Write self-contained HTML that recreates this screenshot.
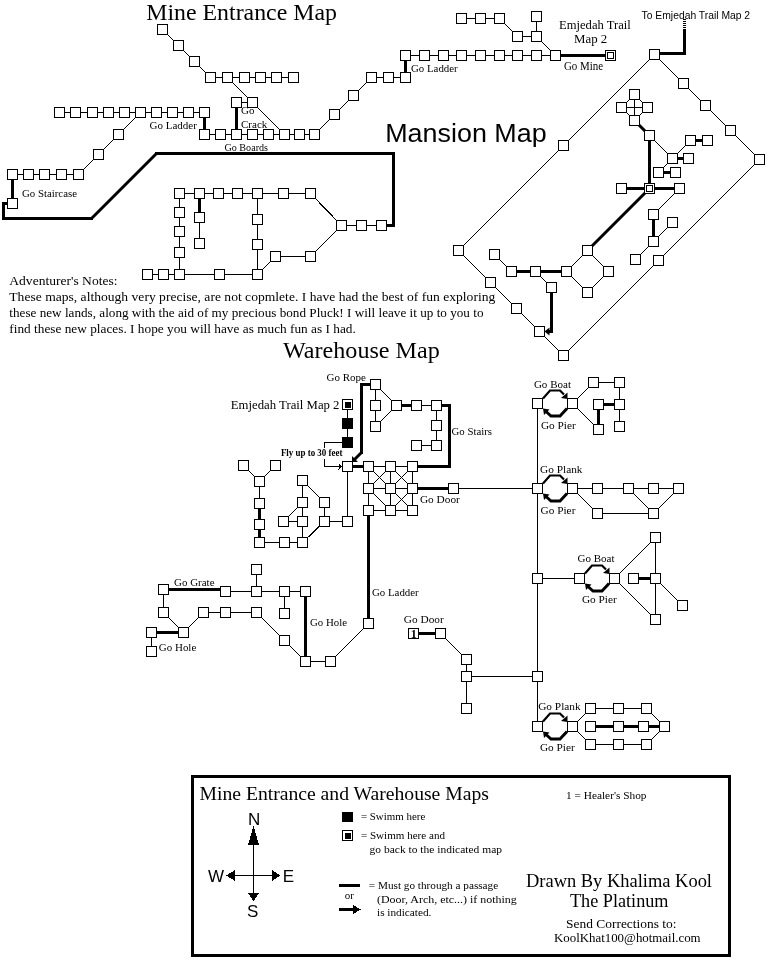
<!DOCTYPE html><html><head><meta charset="utf-8"><style>html,body{margin:0;padding:0;background:#fff;width:768px;height:960px;overflow:hidden}svg{display:block;filter:grayscale(1)}.s{font-family:"Liberation Serif",serif}.a{font-family:"Liberation Sans",sans-serif}</style></head><body>
<svg width="768" height="960" viewBox="0 0 768 960">
<rect width="768" height="960" fill="#fff"/>
<g shape-rendering="crispEdges">
<path d="M162.5 29.5L178.5 45.5M178.5 45.5L194.5 61.5M194.5 61.5L210.5 77.5M210.5 77.5L227.5 77.5M227.5 77.5L244.5 77.5M244.5 77.5L260.5 77.5M260.5 77.5L276.5 77.5M276.5 77.5L293.5 77.5M227.5 77.5L252.5 102.5M252.5 102.5L284.5 134.5M236.5 102.5L252.5 102.5M59.5 112.5L75.5 112.5M75.5 112.5L92.5 112.5M92.5 112.5L108.5 112.5M108.5 112.5L124.5 112.5M124.5 112.5L140.5 112.5M140.5 112.5L156.5 112.5M156.5 112.5L172.5 112.5M172.5 112.5L188.5 112.5M188.5 112.5L204.5 112.5M204.5 134.5L220.5 134.5M220.5 134.5L236.5 134.5M236.5 134.5L252.5 134.5M252.5 134.5L268.5 134.5M268.5 134.5L284.5 134.5M284.5 134.5L299.5 134.5M299.5 134.5L314.5 134.5M314.5 134.5L334.5 114.5M334.5 114.5L353.5 95.5M353.5 95.5L371.5 77.5M371.5 77.5L388.5 77.5M388.5 77.5L405.5 77.5M405.5 55.5L424.5 55.5M424.5 55.5L443.5 55.5M443.5 55.5L461.5 55.5M461.5 55.5L480.5 55.5M480.5 55.5L499.5 55.5M499.5 55.5L517.5 55.5M517.5 55.5L536.5 55.5M536.5 55.5L555.5 55.5M461.5 18.5L480.5 18.5M480.5 18.5L499.5 18.5M499.5 18.5L517.5 36.5M517.5 36.5L536.5 36.5M536.5 16.5L536.5 36.5M536.5 36.5L555.5 55.5M140.5 112.5L118.5 134.5M118.5 134.5L98.5 154.5M98.5 154.5L78.5 174.5M12.5 174.5L28.5 174.5M28.5 174.5L44.5 174.5M44.5 174.5L61.5 174.5M61.5 174.5L78.5 174.5M179.5 193.5L199.5 193.5M199.5 193.5L218.5 193.5M218.5 193.5L237.5 193.5M237.5 193.5L257.5 193.5M257.5 193.5L283.5 193.5M283.5 193.5L310.5 193.5M179.5 193.5L179.5 212.5M179.5 212.5L179.5 231.5M179.5 231.5L179.5 252.5M179.5 252.5L179.5 274.5M199.5 217.5L199.5 243.5M257.5 193.5L257.5 219.5M257.5 219.5L257.5 244.5M257.5 244.5L257.5 274.5M147.5 274.5L163.5 274.5M163.5 274.5L179.5 274.5M179.5 274.5L219.5 274.5M219.5 274.5L257.5 274.5M257.5 274.5L275.5 256.5M275.5 256.5L310.5 256.5M310.5 256.5L341.5 225.5M341.5 225.5L310.5 193.5M341.5 225.5L361.5 225.5M361.5 225.5L381.5 225.5M654.5 54.5L683.5 83.5M683.5 83.5L705.5 105.5M705.5 105.5L730.5 130.5M730.5 130.5L759.5 159.5M654.5 54.5L563.5 145.5M563.5 145.5L458.5 250.5M458.5 250.5L490.5 282.5M490.5 282.5L516.5 308.5M516.5 308.5L539.5 331.5M539.5 331.5L563.5 355.5M563.5 355.5L658.5 260.5M658.5 260.5L759.5 159.5M621.5 107.5L647.5 107.5M634.5 94.5L634.5 120.5M629.5 99.5L626.5 102.5M639.5 99.5L642.5 102.5M629.5 115.5L626.5 112.5M639.5 115.5L642.5 112.5M649.5 135.5L672.5 158.5M672.5 158.5L690.5 140.5M672.5 158.5L658.5 172.5M679.5 188.5L653.5 214.5M672.5 222.5L653.5 241.5M653.5 241.5L635.5 259.5M566.5 271.5L587.5 250.5M587.5 250.5L608.5 271.5M608.5 271.5L587.5 292.5M587.5 292.5L566.5 271.5M494.5 254.5L511.5 271.5M535.5 271.5L551.5 287.5M375.5 384.5L375.5 405.5M375.5 405.5L375.5 426.5M375.5 384.5L396.5 405.5M396.5 405.5L375.5 426.5M416.5 405.5L436.5 405.5M436.5 405.5L436.5 425.5M436.5 425.5L436.5 445.5M416.5 445.5L436.5 445.5M347.5 404.5L347.5 442.5M368.5 466.5L390.5 466.5M390.5 466.5L412.5 466.5M368.5 488.5L390.5 488.5M390.5 488.5L412.5 488.5M368.5 510.5L390.5 510.5M390.5 510.5L412.5 510.5M368.5 466.5L368.5 510.5M390.5 466.5L390.5 510.5M412.5 466.5L412.5 510.5M368.5 466.5L390.5 488.5M390.5 466.5L368.5 488.5M390.5 466.5L412.5 488.5M412.5 466.5L390.5 488.5M368.5 488.5L390.5 510.5M390.5 488.5L412.5 510.5M412.5 488.5L390.5 510.5M453.5 488.5L537.5 488.5M347.5 466.5L347.5 521.5M243.5 465.5L259.5 481.5M259.5 481.5L275.5 465.5M259.5 481.5L259.5 503.5M259.5 542.5L284.5 542.5M284.5 542.5L302.5 542.5M302.5 480.5L302.5 542.5M302.5 480.5L324.5 502.5M324.5 502.5L324.5 521.5M324.5 521.5L347.5 521.5M324.5 521.5L302.5 542.5M283.5 521.5L302.5 502.5M283.5 521.5L302.5 521.5M225.5 591.5L256.5 591.5M256.5 591.5L284.5 591.5M284.5 591.5L305.5 591.5M256.5 569.5L256.5 591.5M284.5 591.5L284.5 613.5M203.5 612.5L225.5 612.5M225.5 612.5L256.5 612.5M163.5 589.5L163.5 612.5M163.5 612.5L183.5 632.5M183.5 632.5L203.5 612.5M151.5 632.5L151.5 651.5M256.5 612.5L284.5 640.5M284.5 640.5L305.5 661.5M305.5 661.5L330.5 661.5M368.5 623.5L330.5 661.5M466.5 659.5L466.5 676.5M466.5 676.5L466.5 708.5M440.5 633.5L466.5 659.5M466.5 676.5L537.5 676.5M537.5 403.5L537.5 726.5M572.5 403.5L593.5 382.5M593.5 382.5L619.5 382.5M619.5 382.5L619.5 426.5M572.5 403.5L598.5 429.5M572.5 488.5L678.5 488.5M572.5 488.5L597.5 513.5M597.5 513.5L653.5 513.5M628.5 488.5L653.5 513.5M653.5 513.5L678.5 488.5M537.5 578.5L579.5 578.5M655.5 537.5L614.5 578.5M614.5 578.5L655.5 619.5M655.5 537.5L655.5 619.5M655.5 578.5L682.5 605.5M590.5 708.5L618.5 708.5M618.5 708.5L646.5 708.5M590.5 744.5L618.5 744.5M618.5 744.5L646.5 744.5M590.5 708.5L572.5 726.5M572.5 726.5L590.5 744.5M646.5 708.5L664.5 726.5M664.5 726.5L646.5 744.5" stroke="#000" stroke-width="1" fill="none"/>
<line x1="236.5" y1="102.5" x2="236.5" y2="134.5" stroke="#000" stroke-width="3" stroke-linecap="square"/>
<line x1="204.5" y1="112.5" x2="204.5" y2="134.5" stroke="#000" stroke-width="3" stroke-linecap="square"/>
<line x1="405.5" y1="77.5" x2="405.5" y2="55.5" stroke="#000" stroke-width="3" stroke-linecap="square"/>
<line x1="555.5" y1="55.5" x2="610.5" y2="55.5" stroke="#000" stroke-width="3" stroke-linecap="square"/>
<line x1="12.5" y1="174.5" x2="12.5" y2="203.5" stroke="#000" stroke-width="3" stroke-linecap="square"/>
<line x1="7.5" y1="203.5" x2="3.5" y2="203.5" stroke="#000" stroke-width="3" stroke-linecap="square"/>
<line x1="3.5" y1="203.5" x2="3.5" y2="218.5" stroke="#000" stroke-width="3" stroke-linecap="square"/>
<line x1="3.5" y1="218.5" x2="91.5" y2="218.5" stroke="#000" stroke-width="3" stroke-linecap="square"/>
<line x1="91.5" y1="218.5" x2="156.5" y2="153.5" stroke="#000" stroke-width="3" stroke-linecap="round" shape-rendering="auto"/>
<line x1="156.5" y1="153.5" x2="393.5" y2="153.5" stroke="#000" stroke-width="3" stroke-linecap="square"/>
<line x1="393.5" y1="153.5" x2="393.5" y2="225.5" stroke="#000" stroke-width="3" stroke-linecap="square"/>
<line x1="393.5" y1="225.5" x2="381.5" y2="225.5" stroke="#000" stroke-width="3" stroke-linecap="square"/>
<line x1="199.5" y1="193.5" x2="199.5" y2="217.5" stroke="#000" stroke-width="3" stroke-linecap="square"/>
<line x1="659.5" y1="53.5" x2="684.5" y2="53.5" stroke="#000" stroke-width="3" stroke-linecap="square"/>
<line x1="684.5" y1="53.5" x2="684.5" y2="30.5" stroke="#000" stroke-width="3" stroke-linecap="square"/>
<line x1="634.5" y1="120.5" x2="649.5" y2="135.5" stroke="#000" stroke-width="3" stroke-linecap="round" shape-rendering="auto"/>
<line x1="649.5" y1="135.5" x2="649.5" y2="188.5" stroke="#000" stroke-width="3" stroke-linecap="square"/>
<line x1="672.5" y1="158.5" x2="688.5" y2="158.5" stroke="#000" stroke-width="3" stroke-linecap="square"/>
<line x1="690.5" y1="140.5" x2="707.5" y2="140.5" stroke="#000" stroke-width="3" stroke-linecap="square"/>
<line x1="658.5" y1="172.5" x2="675.5" y2="172.5" stroke="#000" stroke-width="3" stroke-linecap="square"/>
<line x1="621.5" y1="188.5" x2="679.5" y2="188.5" stroke="#000" stroke-width="3" stroke-linecap="square"/>
<line x1="649.5" y1="188.5" x2="587.5" y2="250.5" stroke="#000" stroke-width="3" stroke-linecap="round" shape-rendering="auto"/>
<line x1="653.5" y1="214.5" x2="653.5" y2="241.5" stroke="#000" stroke-width="3" stroke-linecap="square"/>
<line x1="511.5" y1="271.5" x2="566.5" y2="271.5" stroke="#000" stroke-width="3" stroke-linecap="square"/>
<line x1="551.5" y1="287.5" x2="551.5" y2="331.5" stroke="#000" stroke-width="3" stroke-linecap="square"/>
<line x1="551.5" y1="331.5" x2="548.5" y2="331.5" stroke="#000" stroke-width="3" stroke-linecap="square"/>
<line x1="396.5" y1="405.5" x2="416.5" y2="405.5" stroke="#000" stroke-width="3" stroke-linecap="square"/>
<line x1="436.5" y1="405.5" x2="449.5" y2="405.5" stroke="#000" stroke-width="3" stroke-linecap="square"/>
<line x1="449.5" y1="405.5" x2="449.5" y2="466.5" stroke="#000" stroke-width="3" stroke-linecap="square"/>
<line x1="449.5" y1="466.5" x2="412.5" y2="466.5" stroke="#000" stroke-width="3" stroke-linecap="square"/>
<line x1="347.5" y1="466.5" x2="368.5" y2="466.5" stroke="#000" stroke-width="3" stroke-linecap="square"/>
<line x1="412.5" y1="488.5" x2="453.5" y2="488.5" stroke="#000" stroke-width="3" stroke-linecap="square"/>
<line x1="259.5" y1="503.5" x2="259.5" y2="542.5" stroke="#000" stroke-width="3" stroke-linecap="square"/>
<line x1="370.5" y1="384.5" x2="361.5" y2="384.5" stroke="#000" stroke-width="3" stroke-linecap="square"/>
<line x1="361.5" y1="384.5" x2="361.5" y2="452.5" stroke="#000" stroke-width="3" stroke-linecap="square"/>
<line x1="361.5" y1="452.5" x2="354.5" y2="459.5" stroke="#000" stroke-width="3" stroke-linecap="round" shape-rendering="auto"/>
<line x1="163.5" y1="589.5" x2="225.5" y2="589.5" stroke="#000" stroke-width="3" stroke-linecap="square"/>
<line x1="151.5" y1="632.5" x2="183.5" y2="632.5" stroke="#000" stroke-width="3" stroke-linecap="square"/>
<line x1="305.5" y1="591.5" x2="305.5" y2="661.5" stroke="#000" stroke-width="3" stroke-linecap="square"/>
<line x1="368.5" y1="510.5" x2="368.5" y2="623.5" stroke="#000" stroke-width="3" stroke-linecap="square"/>
<line x1="413.5" y1="633.5" x2="440.5" y2="633.5" stroke="#000" stroke-width="3" stroke-linecap="square"/>
<line x1="598.5" y1="429.5" x2="598.5" y2="404.5" stroke="#000" stroke-width="3" stroke-linecap="square"/>
<line x1="598.5" y1="404.5" x2="619.5" y2="404.5" stroke="#000" stroke-width="3" stroke-linecap="square"/>
<line x1="633.5" y1="578.5" x2="655.5" y2="578.5" stroke="#000" stroke-width="3" stroke-linecap="square"/>
<line x1="590.5" y1="726.5" x2="664.5" y2="726.5" stroke="#000" stroke-width="3" stroke-linecap="square"/>
<line x1="684.5" y1="30" x2="684.5" y2="19" stroke="#000" stroke-width="3" stroke-dasharray="1 1"/>
<polygon points="544.5,331.5 549.5,327.5 549.5,335.5" fill="#000" shape-rendering="auto"/>
<polygon points="352,462 352,456 358,462" fill="#000" shape-rendering="auto"/>
<polyline points="342,442.5 324.5,442.5 324.5,466.5 339,466.5" fill="none" stroke="#000" stroke-width="1"/>
<polygon points="342,466.5 338.5,463.5 338.5,469.5" fill="#000"/>
<rect x="281" y="447.5" width="62" height="11" fill="#fff"/>
<polyline points="543.0,398.5 550.0,390.5 560.0,390.5 564.0,394.5" fill="none" stroke="#000" stroke-width="2.2" shape-rendering="auto"/><polygon points="567.5,399.0 561.0,398.0 567.5,392.5" fill="#000" shape-rendering="auto"/><polyline points="567.0,408.5 560.0,416.0 551.0,416.0 546.0,411.5" fill="none" stroke="#000" stroke-width="3" shape-rendering="auto"/><polygon points="543.0,408.5 549.5,409.5 544.0,415.0" fill="#000" shape-rendering="auto"/>
<polyline points="543.0,483.5 550.0,475.5 560.0,475.5 564.0,479.5" fill="none" stroke="#000" stroke-width="2.2" shape-rendering="auto"/><polygon points="567.5,484.0 561.0,483.0 567.5,477.5" fill="#000" shape-rendering="auto"/><polyline points="567.0,493.5 560.0,501.0 551.0,501.0 546.0,496.5" fill="none" stroke="#000" stroke-width="3" shape-rendering="auto"/><polygon points="543.0,493.5 549.5,494.5 544.0,500.0" fill="#000" shape-rendering="auto"/>
<polyline points="585.0,573.5 592.0,565.5 602.0,565.5 606.0,569.5" fill="none" stroke="#000" stroke-width="2.2" shape-rendering="auto"/><polygon points="609.5,574.0 603.0,573.0 609.5,567.5" fill="#000" shape-rendering="auto"/><polyline points="609.0,583.5 602.0,591.0 593.0,591.0 588.0,586.5" fill="none" stroke="#000" stroke-width="3" shape-rendering="auto"/><polygon points="585.0,583.5 591.5,584.5 586.0,590.0" fill="#000" shape-rendering="auto"/>
<polyline points="543.0,721.5 550.0,713.5 560.0,713.5 564.0,717.5" fill="none" stroke="#000" stroke-width="2.2" shape-rendering="auto"/><polygon points="567.5,722.0 561.0,721.0 567.5,715.5" fill="#000" shape-rendering="auto"/><polyline points="567.0,731.5 560.0,739.0 551.0,739.0 546.0,734.5" fill="none" stroke="#000" stroke-width="3" shape-rendering="auto"/><polygon points="543.0,731.5 549.5,732.5 544.0,738.0" fill="#000" shape-rendering="auto"/>
<rect x="157.5" y="24.5" width="10" height="10" fill="#fff" stroke="#000"/>
<rect x="173.5" y="40.5" width="10" height="10" fill="#fff" stroke="#000"/>
<rect x="189.5" y="56.5" width="10" height="10" fill="#fff" stroke="#000"/>
<rect x="205.5" y="72.5" width="10" height="10" fill="#fff" stroke="#000"/>
<rect x="222.5" y="72.5" width="10" height="10" fill="#fff" stroke="#000"/>
<rect x="239.5" y="72.5" width="10" height="10" fill="#fff" stroke="#000"/>
<rect x="255.5" y="72.5" width="10" height="10" fill="#fff" stroke="#000"/>
<rect x="271.5" y="72.5" width="10" height="10" fill="#fff" stroke="#000"/>
<rect x="288.5" y="72.5" width="10" height="10" fill="#fff" stroke="#000"/>
<rect x="247.5" y="97.5" width="10" height="10" fill="#fff" stroke="#000"/>
<rect x="231.5" y="97.5" width="10" height="10" fill="#fff" stroke="#000"/>
<rect x="54.5" y="107.5" width="10" height="10" fill="#fff" stroke="#000"/>
<rect x="70.5" y="107.5" width="10" height="10" fill="#fff" stroke="#000"/>
<rect x="87.5" y="107.5" width="10" height="10" fill="#fff" stroke="#000"/>
<rect x="103.5" y="107.5" width="10" height="10" fill="#fff" stroke="#000"/>
<rect x="119.5" y="107.5" width="10" height="10" fill="#fff" stroke="#000"/>
<rect x="135.5" y="107.5" width="10" height="10" fill="#fff" stroke="#000"/>
<rect x="151.5" y="107.5" width="10" height="10" fill="#fff" stroke="#000"/>
<rect x="167.5" y="107.5" width="10" height="10" fill="#fff" stroke="#000"/>
<rect x="183.5" y="107.5" width="10" height="10" fill="#fff" stroke="#000"/>
<rect x="199.5" y="107.5" width="10" height="10" fill="#fff" stroke="#000"/>
<rect x="199.5" y="129.5" width="10" height="10" fill="#fff" stroke="#000"/>
<rect x="215.5" y="129.5" width="10" height="10" fill="#fff" stroke="#000"/>
<rect x="231.5" y="129.5" width="10" height="10" fill="#fff" stroke="#000"/>
<rect x="247.5" y="129.5" width="10" height="10" fill="#fff" stroke="#000"/>
<rect x="263.5" y="129.5" width="10" height="10" fill="#fff" stroke="#000"/>
<rect x="279.5" y="129.5" width="10" height="10" fill="#fff" stroke="#000"/>
<rect x="294.5" y="129.5" width="10" height="10" fill="#fff" stroke="#000"/>
<rect x="309.5" y="129.5" width="10" height="10" fill="#fff" stroke="#000"/>
<rect x="329.5" y="109.5" width="10" height="10" fill="#fff" stroke="#000"/>
<rect x="348.5" y="90.5" width="10" height="10" fill="#fff" stroke="#000"/>
<rect x="366.5" y="72.5" width="10" height="10" fill="#fff" stroke="#000"/>
<rect x="383.5" y="72.5" width="10" height="10" fill="#fff" stroke="#000"/>
<rect x="400.5" y="72.5" width="10" height="10" fill="#fff" stroke="#000"/>
<rect x="400.5" y="50.5" width="10" height="10" fill="#fff" stroke="#000"/>
<rect x="419.5" y="50.5" width="10" height="10" fill="#fff" stroke="#000"/>
<rect x="438.5" y="50.5" width="10" height="10" fill="#fff" stroke="#000"/>
<rect x="456.5" y="50.5" width="10" height="10" fill="#fff" stroke="#000"/>
<rect x="475.5" y="50.5" width="10" height="10" fill="#fff" stroke="#000"/>
<rect x="494.5" y="50.5" width="10" height="10" fill="#fff" stroke="#000"/>
<rect x="512.5" y="50.5" width="10" height="10" fill="#fff" stroke="#000"/>
<rect x="531.5" y="50.5" width="10" height="10" fill="#fff" stroke="#000"/>
<rect x="550.5" y="50.5" width="10" height="10" fill="#fff" stroke="#000"/>
<rect x="456.5" y="13.5" width="10" height="10" fill="#fff" stroke="#000"/>
<rect x="475.5" y="13.5" width="10" height="10" fill="#fff" stroke="#000"/>
<rect x="494.5" y="13.5" width="10" height="10" fill="#fff" stroke="#000"/>
<rect x="512.5" y="31.5" width="10" height="10" fill="#fff" stroke="#000"/>
<rect x="531.5" y="31.5" width="10" height="10" fill="#fff" stroke="#000"/>
<rect x="531.5" y="11.5" width="10" height="10" fill="#fff" stroke="#000"/>
<rect x="605.5" y="50.5" width="10" height="10" fill="#fff" stroke="#000"/>
<rect x="607.5" y="52.5" width="6" height="6" fill="none" stroke="#000"/>
<rect x="113.5" y="129.5" width="10" height="10" fill="#fff" stroke="#000"/>
<rect x="93.5" y="149.5" width="10" height="10" fill="#fff" stroke="#000"/>
<rect x="7.5" y="169.5" width="10" height="10" fill="#fff" stroke="#000"/>
<rect x="23.5" y="169.5" width="10" height="10" fill="#fff" stroke="#000"/>
<rect x="39.5" y="169.5" width="10" height="10" fill="#fff" stroke="#000"/>
<rect x="56.5" y="169.5" width="10" height="10" fill="#fff" stroke="#000"/>
<rect x="73.5" y="169.5" width="10" height="10" fill="#fff" stroke="#000"/>
<rect x="7.5" y="198.5" width="10" height="10" fill="#fff" stroke="#000"/>
<rect x="174.5" y="188.5" width="10" height="10" fill="#fff" stroke="#000"/>
<rect x="194.5" y="188.5" width="10" height="10" fill="#fff" stroke="#000"/>
<rect x="213.5" y="188.5" width="10" height="10" fill="#fff" stroke="#000"/>
<rect x="232.5" y="188.5" width="10" height="10" fill="#fff" stroke="#000"/>
<rect x="252.5" y="188.5" width="10" height="10" fill="#fff" stroke="#000"/>
<rect x="278.5" y="188.5" width="10" height="10" fill="#fff" stroke="#000"/>
<rect x="305.5" y="188.5" width="10" height="10" fill="#fff" stroke="#000"/>
<rect x="174.5" y="188.5" width="10" height="10" fill="#fff" stroke="#000"/>
<rect x="174.5" y="207.5" width="10" height="10" fill="#fff" stroke="#000"/>
<rect x="174.5" y="226.5" width="10" height="10" fill="#fff" stroke="#000"/>
<rect x="174.5" y="247.5" width="10" height="10" fill="#fff" stroke="#000"/>
<rect x="174.5" y="269.5" width="10" height="10" fill="#fff" stroke="#000"/>
<rect x="194.5" y="212.5" width="10" height="10" fill="#fff" stroke="#000"/>
<rect x="194.5" y="238.5" width="10" height="10" fill="#fff" stroke="#000"/>
<rect x="252.5" y="188.5" width="10" height="10" fill="#fff" stroke="#000"/>
<rect x="252.5" y="214.5" width="10" height="10" fill="#fff" stroke="#000"/>
<rect x="252.5" y="239.5" width="10" height="10" fill="#fff" stroke="#000"/>
<rect x="252.5" y="269.5" width="10" height="10" fill="#fff" stroke="#000"/>
<rect x="142.5" y="269.5" width="10" height="10" fill="#fff" stroke="#000"/>
<rect x="158.5" y="269.5" width="10" height="10" fill="#fff" stroke="#000"/>
<rect x="174.5" y="269.5" width="10" height="10" fill="#fff" stroke="#000"/>
<rect x="214.5" y="269.5" width="10" height="10" fill="#fff" stroke="#000"/>
<rect x="252.5" y="269.5" width="10" height="10" fill="#fff" stroke="#000"/>
<rect x="270.5" y="251.5" width="10" height="10" fill="#fff" stroke="#000"/>
<rect x="305.5" y="251.5" width="10" height="10" fill="#fff" stroke="#000"/>
<rect x="336.5" y="220.5" width="10" height="10" fill="#fff" stroke="#000"/>
<rect x="356.5" y="220.5" width="10" height="10" fill="#fff" stroke="#000"/>
<rect x="376.5" y="220.5" width="10" height="10" fill="#fff" stroke="#000"/>
<rect x="649.5" y="49.5" width="10" height="10" fill="#fff" stroke="#000"/>
<rect x="678.5" y="78.5" width="10" height="10" fill="#fff" stroke="#000"/>
<rect x="700.5" y="100.5" width="10" height="10" fill="#fff" stroke="#000"/>
<rect x="725.5" y="125.5" width="10" height="10" fill="#fff" stroke="#000"/>
<rect x="754.5" y="154.5" width="10" height="10" fill="#fff" stroke="#000"/>
<rect x="558.5" y="140.5" width="10" height="10" fill="#fff" stroke="#000"/>
<rect x="453.5" y="245.5" width="10" height="10" fill="#fff" stroke="#000"/>
<rect x="485.5" y="277.5" width="10" height="10" fill="#fff" stroke="#000"/>
<rect x="511.5" y="303.5" width="10" height="10" fill="#fff" stroke="#000"/>
<rect x="534.5" y="326.5" width="10" height="10" fill="#fff" stroke="#000"/>
<rect x="558.5" y="350.5" width="10" height="10" fill="#fff" stroke="#000"/>
<rect x="653.5" y="255.5" width="10" height="10" fill="#fff" stroke="#000"/>
<rect x="629.5" y="89.5" width="10" height="10" fill="#fff" stroke="#000"/>
<rect x="616.5" y="102.5" width="10" height="10" fill="#fff" stroke="#000"/>
<rect x="642.5" y="102.5" width="10" height="10" fill="#fff" stroke="#000"/>
<rect x="629.5" y="115.5" width="10" height="10" fill="#fff" stroke="#000"/>
<rect x="644.5" y="130.5" width="10" height="10" fill="#fff" stroke="#000"/>
<rect x="644.5" y="183.5" width="10" height="10" fill="#fff" stroke="#000"/>
<rect x="646.5" y="185.5" width="6" height="6" fill="none" stroke="#000"/>
<rect x="667.5" y="153.5" width="10" height="10" fill="#fff" stroke="#000"/>
<rect x="683.5" y="153.5" width="10" height="10" fill="#fff" stroke="#000"/>
<rect x="685.5" y="135.5" width="10" height="10" fill="#fff" stroke="#000"/>
<rect x="702.5" y="135.5" width="10" height="10" fill="#fff" stroke="#000"/>
<rect x="653.5" y="167.5" width="10" height="10" fill="#fff" stroke="#000"/>
<rect x="670.5" y="167.5" width="10" height="10" fill="#fff" stroke="#000"/>
<rect x="616.5" y="183.5" width="10" height="10" fill="#fff" stroke="#000"/>
<rect x="674.5" y="183.5" width="10" height="10" fill="#fff" stroke="#000"/>
<rect x="648.5" y="209.5" width="10" height="10" fill="#fff" stroke="#000"/>
<rect x="648.5" y="236.5" width="10" height="10" fill="#fff" stroke="#000"/>
<rect x="667.5" y="217.5" width="10" height="10" fill="#fff" stroke="#000"/>
<rect x="630.5" y="254.5" width="10" height="10" fill="#fff" stroke="#000"/>
<rect x="561.5" y="266.5" width="10" height="10" fill="#fff" stroke="#000"/>
<rect x="582.5" y="245.5" width="10" height="10" fill="#fff" stroke="#000"/>
<rect x="603.5" y="266.5" width="10" height="10" fill="#fff" stroke="#000"/>
<rect x="582.5" y="287.5" width="10" height="10" fill="#fff" stroke="#000"/>
<rect x="530.5" y="266.5" width="10" height="10" fill="#fff" stroke="#000"/>
<rect x="506.5" y="266.5" width="10" height="10" fill="#fff" stroke="#000"/>
<rect x="489.5" y="249.5" width="10" height="10" fill="#fff" stroke="#000"/>
<rect x="546.5" y="282.5" width="10" height="10" fill="#fff" stroke="#000"/>
<rect x="370.5" y="379.5" width="10" height="10" fill="#fff" stroke="#000"/>
<rect x="370.5" y="400.5" width="10" height="10" fill="#fff" stroke="#000"/>
<rect x="370.5" y="421.5" width="10" height="10" fill="#fff" stroke="#000"/>
<rect x="391.5" y="400.5" width="10" height="10" fill="#fff" stroke="#000"/>
<rect x="411.5" y="400.5" width="10" height="10" fill="#fff" stroke="#000"/>
<rect x="431.5" y="400.5" width="10" height="10" fill="#fff" stroke="#000"/>
<rect x="431.5" y="400.5" width="10" height="10" fill="#fff" stroke="#000"/>
<rect x="431.5" y="420.5" width="10" height="10" fill="#fff" stroke="#000"/>
<rect x="431.5" y="440.5" width="10" height="10" fill="#fff" stroke="#000"/>
<rect x="411.5" y="440.5" width="10" height="10" fill="#fff" stroke="#000"/>
<rect x="342.5" y="399.5" width="10" height="10" fill="#fff" stroke="#000"/>
<rect x="345" y="402" width="6" height="6" fill="#000"/>
<rect x="342" y="418" width="11" height="11" fill="#000"/>
<rect x="342" y="437" width="11" height="11" fill="#000"/>
<rect x="342.5" y="461.5" width="10" height="10" fill="#fff" stroke="#000"/>
<rect x="363.5" y="461.5" width="10" height="10" fill="#fff" stroke="#000"/>
<rect x="385.5" y="461.5" width="10" height="10" fill="#fff" stroke="#000"/>
<rect x="407.5" y="461.5" width="10" height="10" fill="#fff" stroke="#000"/>
<rect x="363.5" y="483.5" width="10" height="10" fill="#fff" stroke="#000"/>
<rect x="385.5" y="483.5" width="10" height="10" fill="#fff" stroke="#000"/>
<rect x="407.5" y="483.5" width="10" height="10" fill="#fff" stroke="#000"/>
<rect x="363.5" y="505.5" width="10" height="10" fill="#fff" stroke="#000"/>
<rect x="385.5" y="505.5" width="10" height="10" fill="#fff" stroke="#000"/>
<rect x="407.5" y="505.5" width="10" height="10" fill="#fff" stroke="#000"/>
<rect x="448.5" y="483.5" width="10" height="10" fill="#fff" stroke="#000"/>
<rect x="342.5" y="516.5" width="10" height="10" fill="#fff" stroke="#000"/>
<rect x="238.5" y="460.5" width="10" height="10" fill="#fff" stroke="#000"/>
<rect x="270.5" y="460.5" width="10" height="10" fill="#fff" stroke="#000"/>
<rect x="254.5" y="476.5" width="10" height="10" fill="#fff" stroke="#000"/>
<rect x="254.5" y="498.5" width="10" height="10" fill="#fff" stroke="#000"/>
<rect x="254.5" y="519.5" width="10" height="10" fill="#fff" stroke="#000"/>
<rect x="254.5" y="537.5" width="10" height="10" fill="#fff" stroke="#000"/>
<rect x="279.5" y="537.5" width="10" height="10" fill="#fff" stroke="#000"/>
<rect x="297.5" y="537.5" width="10" height="10" fill="#fff" stroke="#000"/>
<rect x="297.5" y="475.5" width="10" height="10" fill="#fff" stroke="#000"/>
<rect x="297.5" y="497.5" width="10" height="10" fill="#fff" stroke="#000"/>
<rect x="297.5" y="516.5" width="10" height="10" fill="#fff" stroke="#000"/>
<rect x="278.5" y="516.5" width="10" height="10" fill="#fff" stroke="#000"/>
<rect x="319.5" y="497.5" width="10" height="10" fill="#fff" stroke="#000"/>
<rect x="319.5" y="516.5" width="10" height="10" fill="#fff" stroke="#000"/>
<rect x="158.5" y="584.5" width="10" height="10" fill="#fff" stroke="#000"/>
<rect x="220.5" y="586.5" width="10" height="10" fill="#fff" stroke="#000"/>
<rect x="251.5" y="586.5" width="10" height="10" fill="#fff" stroke="#000"/>
<rect x="279.5" y="586.5" width="10" height="10" fill="#fff" stroke="#000"/>
<rect x="300.5" y="586.5" width="10" height="10" fill="#fff" stroke="#000"/>
<rect x="251.5" y="564.5" width="10" height="10" fill="#fff" stroke="#000"/>
<rect x="279.5" y="608.5" width="10" height="10" fill="#fff" stroke="#000"/>
<rect x="158.5" y="607.5" width="10" height="10" fill="#fff" stroke="#000"/>
<rect x="198.5" y="607.5" width="10" height="10" fill="#fff" stroke="#000"/>
<rect x="220.5" y="607.5" width="10" height="10" fill="#fff" stroke="#000"/>
<rect x="251.5" y="607.5" width="10" height="10" fill="#fff" stroke="#000"/>
<rect x="178.5" y="627.5" width="10" height="10" fill="#fff" stroke="#000"/>
<rect x="146.5" y="627.5" width="10" height="10" fill="#fff" stroke="#000"/>
<rect x="146.5" y="646.5" width="10" height="10" fill="#fff" stroke="#000"/>
<rect x="279.5" y="635.5" width="10" height="10" fill="#fff" stroke="#000"/>
<rect x="300.5" y="656.5" width="10" height="10" fill="#fff" stroke="#000"/>
<rect x="325.5" y="656.5" width="10" height="10" fill="#fff" stroke="#000"/>
<rect x="363.5" y="618.5" width="10" height="10" fill="#fff" stroke="#000"/>
<rect x="408.5" y="628.5" width="10" height="10" fill="#fff" stroke="#000"/>
<text x="413.7" y="638" class="s" font-size="12" font-weight="bold" text-anchor="middle">1</text>
<rect x="435.5" y="628.5" width="10" height="10" fill="#fff" stroke="#000"/>
<rect x="461.5" y="654.5" width="10" height="10" fill="#fff" stroke="#000"/>
<rect x="461.5" y="671.5" width="10" height="10" fill="#fff" stroke="#000"/>
<rect x="461.5" y="703.5" width="10" height="10" fill="#fff" stroke="#000"/>
<rect x="532.5" y="671.5" width="10" height="10" fill="#fff" stroke="#000"/>
<rect x="532.5" y="398.5" width="10" height="10" fill="#fff" stroke="#000"/>
<rect x="567.5" y="398.5" width="10" height="10" fill="#fff" stroke="#000"/>
<rect x="588.5" y="377.5" width="10" height="10" fill="#fff" stroke="#000"/>
<rect x="614.5" y="377.5" width="10" height="10" fill="#fff" stroke="#000"/>
<rect x="593.5" y="399.5" width="10" height="10" fill="#fff" stroke="#000"/>
<rect x="614.5" y="399.5" width="10" height="10" fill="#fff" stroke="#000"/>
<rect x="593.5" y="424.5" width="10" height="10" fill="#fff" stroke="#000"/>
<rect x="614.5" y="421.5" width="10" height="10" fill="#fff" stroke="#000"/>
<rect x="532.5" y="483.5" width="10" height="10" fill="#fff" stroke="#000"/>
<rect x="567.5" y="483.5" width="10" height="10" fill="#fff" stroke="#000"/>
<rect x="592.5" y="483.5" width="10" height="10" fill="#fff" stroke="#000"/>
<rect x="623.5" y="483.5" width="10" height="10" fill="#fff" stroke="#000"/>
<rect x="648.5" y="483.5" width="10" height="10" fill="#fff" stroke="#000"/>
<rect x="673.5" y="483.5" width="10" height="10" fill="#fff" stroke="#000"/>
<rect x="592.5" y="508.5" width="10" height="10" fill="#fff" stroke="#000"/>
<rect x="648.5" y="508.5" width="10" height="10" fill="#fff" stroke="#000"/>
<rect x="532.5" y="573.5" width="10" height="10" fill="#fff" stroke="#000"/>
<rect x="574.5" y="573.5" width="10" height="10" fill="#fff" stroke="#000"/>
<rect x="609.5" y="573.5" width="10" height="10" fill="#fff" stroke="#000"/>
<rect x="650.5" y="532.5" width="10" height="10" fill="#fff" stroke="#000"/>
<rect x="650.5" y="614.5" width="10" height="10" fill="#fff" stroke="#000"/>
<rect x="628.5" y="573.5" width="10" height="10" fill="#fff" stroke="#000"/>
<rect x="650.5" y="573.5" width="10" height="10" fill="#fff" stroke="#000"/>
<rect x="677.5" y="600.5" width="10" height="10" fill="#fff" stroke="#000"/>
<rect x="532.5" y="721.5" width="10" height="10" fill="#fff" stroke="#000"/>
<rect x="567.5" y="721.5" width="10" height="10" fill="#fff" stroke="#000"/>
<rect x="585.5" y="703.5" width="10" height="10" fill="#fff" stroke="#000"/>
<rect x="613.5" y="703.5" width="10" height="10" fill="#fff" stroke="#000"/>
<rect x="641.5" y="703.5" width="10" height="10" fill="#fff" stroke="#000"/>
<rect x="585.5" y="739.5" width="10" height="10" fill="#fff" stroke="#000"/>
<rect x="613.5" y="739.5" width="10" height="10" fill="#fff" stroke="#000"/>
<rect x="641.5" y="739.5" width="10" height="10" fill="#fff" stroke="#000"/>
<rect x="585.5" y="721.5" width="10" height="10" fill="#fff" stroke="#000"/>
<rect x="613.5" y="721.5" width="10" height="10" fill="#fff" stroke="#000"/>
<rect x="638.5" y="721.5" width="10" height="10" fill="#fff" stroke="#000"/>
<rect x="659.5" y="721.5" width="10" height="10" fill="#fff" stroke="#000"/>
<rect x="192.5" y="776.5" width="537" height="179" fill="none" stroke="#000" stroke-width="3"/>
<rect x="342" y="812" width="11" height="10" fill="#000"/>
<rect x="342.5" y="830.5" width="10" height="10" fill="none" stroke="#000"/>
<rect x="344.5" y="832.5" width="6" height="6" fill="#000"/>
<rect x="339" y="884" width="21" height="3" fill="#000"/>
<rect x="339" y="908" width="14" height="3" fill="#000"/>
<polygon points="353,905 361,909.5 353,914" fill="#000"/>
<line x1="253.5" y1="838" x2="253.5" y2="895" stroke="#000"/>
<line x1="232" y1="875.5" x2="275" y2="875.5" stroke="#000"/>
<polygon points="253.5,826 248,845 259,845" fill="#000"/>
<polygon points="253.5,901 248,893 259,893" fill="#000"/>
<polygon points="226,875.5 235,870 235,881" fill="#000"/>
<polygon points="280,875.5 272,870 272,881" fill="#000"/>
</g>
<text x="146.3" y="20.3" class="s" font-size="24" textLength="190.6" lengthAdjust="spacingAndGlyphs">Mine Entrance Map</text>
<text x="385.2" y="141.5" class="a" font-size="26.7" textLength="161.5" lengthAdjust="spacingAndGlyphs">Mansion Map</text>
<text x="283" y="357.5" class="s" font-size="24" textLength="156.8" lengthAdjust="spacingAndGlyphs">Warehouse Map</text>
<text x="559" y="28.7" class="s" font-size="12.5" textLength="71.8" lengthAdjust="spacingAndGlyphs">Emjedah Trail</text>
<text x="574" y="43.4" class="s" font-size="12.5" textLength="33.2" lengthAdjust="spacingAndGlyphs">Map 2</text>
<text x="563.9" y="70.2" class="s" font-size="11.5" textLength="39.2" lengthAdjust="spacingAndGlyphs">Go Mine</text>
<text x="641.6" y="18.9" class="a" font-size="10.3" textLength="108.5" lengthAdjust="spacingAndGlyphs">To Emjedah Trail Map 2</text>
<text x="411" y="72" class="s" font-size="11" textLength="46.7" lengthAdjust="spacingAndGlyphs">Go Ladder</text>
<text x="149.5" y="129" class="s" font-size="11" textLength="47.4" lengthAdjust="spacingAndGlyphs">Go Ladder</text>
<text x="241" y="114" class="s" font-size="11">Go</text>
<text x="241" y="128" class="s" font-size="11">Crack</text>
<text x="224.5" y="151" class="s" font-size="11" textLength="43.5" lengthAdjust="spacingAndGlyphs">Go Boards</text>
<text x="22" y="197" class="s" font-size="11" textLength="55" lengthAdjust="spacingAndGlyphs">Go Staircase</text>
<text x="9.3" y="284.5" class="s" font-size="13.4" textLength="108.2" lengthAdjust="spacingAndGlyphs">Adventurer's Notes:</text>
<text x="9.3" y="300.5" class="s" font-size="13.4" textLength="486" lengthAdjust="spacingAndGlyphs">These maps, although very precise, are not copmlete. I have had the best of fun exploring</text>
<text x="9.3" y="316.5" class="s" font-size="13.4" textLength="474.2" lengthAdjust="spacingAndGlyphs">these new lands, along with the aid of my precious bond Pluck! I will leave it up to you to</text>
<text x="9.3" y="332.5" class="s" font-size="13.4" textLength="346.5" lengthAdjust="spacingAndGlyphs">find these new places. I hope you will have as much fun as I had.</text>
<text x="326.5" y="381" class="s" font-size="11" textLength="39.5" lengthAdjust="spacingAndGlyphs">Go Rope</text>
<text x="230.8" y="409" class="s" font-size="12.8" textLength="108.7" lengthAdjust="spacingAndGlyphs">Emjedah Trail Map 2</text>
<text x="280.9" y="456" class="s" font-size="9.6" textLength="61.5" lengthAdjust="spacingAndGlyphs" font-weight="bold">Fly up to 30 feet</text>
<text x="451.5" y="435" class="s" font-size="11" textLength="40.5" lengthAdjust="spacingAndGlyphs">Go Stairs</text>
<text x="419.9" y="503" class="s" font-size="11" textLength="40" lengthAdjust="spacingAndGlyphs">Go Door</text>
<text x="372" y="596" class="s" font-size="11" textLength="46.7" lengthAdjust="spacingAndGlyphs">Go Ladder</text>
<text x="310" y="625.5" class="s" font-size="11" textLength="37" lengthAdjust="spacingAndGlyphs">Go Hole</text>
<text x="174" y="586" class="s" font-size="11" textLength="40.5" lengthAdjust="spacingAndGlyphs">Go Grate</text>
<text x="158.8" y="651" class="s" font-size="11" textLength="37.5" lengthAdjust="spacingAndGlyphs">Go Hole</text>
<text x="403.8" y="623" class="s" font-size="11" textLength="40" lengthAdjust="spacingAndGlyphs">Go Door</text>
<text x="533.9" y="388" class="s" font-size="11" textLength="37.1" lengthAdjust="spacingAndGlyphs">Go Boat</text>
<text x="540.9" y="429" class="s" font-size="11" textLength="34.8" lengthAdjust="spacingAndGlyphs">Go Pier</text>
<text x="540" y="473" class="s" font-size="11" textLength="42.5" lengthAdjust="spacingAndGlyphs">Go Plank</text>
<text x="540.6" y="514" class="s" font-size="11" textLength="34.8" lengthAdjust="spacingAndGlyphs">Go Pier</text>
<text x="577.5" y="562" class="s" font-size="11" textLength="37.1" lengthAdjust="spacingAndGlyphs">Go Boat</text>
<text x="581.9" y="602.5" class="s" font-size="11" textLength="34.8" lengthAdjust="spacingAndGlyphs">Go Pier</text>
<text x="538.2" y="709.5" class="s" font-size="11" textLength="42.5" lengthAdjust="spacingAndGlyphs">Go Plank</text>
<text x="539.9" y="751" class="s" font-size="11" textLength="34.8" lengthAdjust="spacingAndGlyphs">Go Pier</text>
<text x="199.5" y="800.2" class="s" font-size="19.6" textLength="289.4" lengthAdjust="spacingAndGlyphs">Mine Entrance and Warehouse Maps</text>
<text x="566" y="799" class="s" font-size="11.3" textLength="80.5" lengthAdjust="spacingAndGlyphs">1 = Healer's Shop</text>
<text x="360.9" y="819.8" class="s" font-size="11" textLength="64.4" lengthAdjust="spacingAndGlyphs">= Swimm here</text>
<text x="360.9" y="838.8" class="s" font-size="11" textLength="84.1" lengthAdjust="spacingAndGlyphs">= Swimm here and</text>
<text x="369.6" y="852.7" class="s" font-size="11" textLength="132.4" lengthAdjust="spacingAndGlyphs">go back to the indicated map</text>
<text x="368.8" y="888.6" class="s" font-size="11" textLength="129.4" lengthAdjust="spacingAndGlyphs">= Must go through a passage</text>
<text x="344.8" y="899" class="s" font-size="11">or</text>
<text x="377" y="902.7" class="s" font-size="11" textLength="139.8" lengthAdjust="spacingAndGlyphs">(Door, Arch, etc...) if nothing</text>
<text x="377" y="916.3" class="s" font-size="11" textLength="54.4" lengthAdjust="spacingAndGlyphs">is indicated.</text>
<text x="526" y="887" class="s" font-size="18.4" textLength="186" lengthAdjust="spacingAndGlyphs">Drawn By Khalima Kool</text>
<text x="570" y="907" class="s" font-size="18.2" textLength="98.5" lengthAdjust="spacingAndGlyphs">The Platinum</text>
<text x="566" y="927.6" class="s" font-size="13.4" textLength="110.5" lengthAdjust="spacingAndGlyphs">Send Corrections to:</text>
<text x="554" y="942.4" class="s" font-size="12.9" textLength="146.6" lengthAdjust="spacingAndGlyphs">KoolKhat100@hotmail.com</text>
<text x="247.9" y="824.8" class="a" font-size="17">N</text>
<text x="208" y="881.8" class="a" font-size="17">W</text>
<text x="282.7" y="881.8" class="a" font-size="17">E</text>
<text x="247.1" y="917" class="a" font-size="17">S</text>
</svg></body></html>
